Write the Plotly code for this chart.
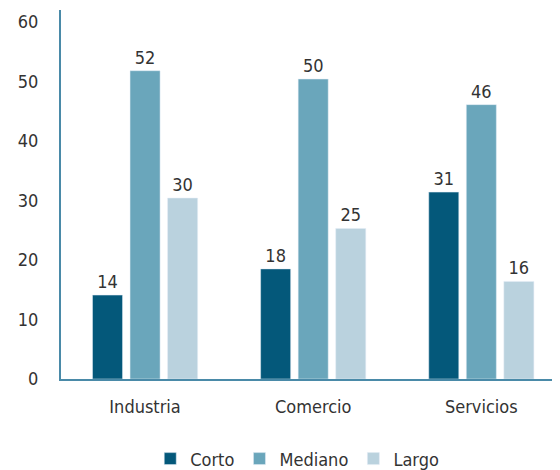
import plotly.graph_objects as go

categories = ["Industria", "Comercio", "Servicios"]
corto = [14.1, 18.5, 31.4]
mediano = [51.8, 50.4, 46.1]
largo = [30.4, 25.3, 16.4]

COLORS = {"corto": "#04587a", "mediano": "#6aa6bb", "largo": "#bad2de",
          "axis": "#4a8aa8", "text": "#333333"}
FONT = "DejaVu Sans Condensed, DejaVu Sans, sans-serif"

fig = go.Figure()
for name, vals, col in [("Corto", corto, COLORS["corto"]),
                        ("Mediano", mediano, COLORS["mediano"]),
                        ("Largo", largo, COLORS["largo"])]:
    fig.add_trace(go.Bar(
        x=categories, y=vals, name=name, marker_color=col,
        text=[f"{v:.0f}" for v in vals], textposition="outside",
        textfont=dict(size=18, color=COLORS["text"], family=FONT),
        cliponaxis=False,
    ))

# la página añade ~8px de margen, así que el lienzo es un poco más pequeño
fig.update_layout(
    width=552, height=462,
    margin=dict(l=53, r=0, t=2, b=91),
    paper_bgcolor="white", plot_bgcolor="white",
    font=dict(family=FONT, size=18, color=COLORS["text"]),
    barmode="group", bargap=0.33, bargroupgap=0.2,
    showlegend=True,
    legend=dict(orientation="h", x=0.524, xanchor="center", xref="container",
                y=0.024, yanchor="middle", yref="container",
                font=dict(size=18), traceorder="normal"),
)
fig.update_xaxes(
    range=[-0.5, 2.468], showline=True, linecolor=COLORS["axis"], linewidth=2,
    ticks="outside", ticklen=10, tickcolor="rgba(0,0,0,0)", showgrid=False,
    automargin=False,
)
fig.update_yaxes(
    range=[0, 62], tickvals=[0, 10, 20, 30, 40, 50, 60],
    showline=True, linecolor=COLORS["axis"], linewidth=2,
    ticks="outside", ticklen=17, tickcolor="rgba(0,0,0,0)",
    showgrid=False, zeroline=False, automargin=False,
)

fig.write_html("out.html")
